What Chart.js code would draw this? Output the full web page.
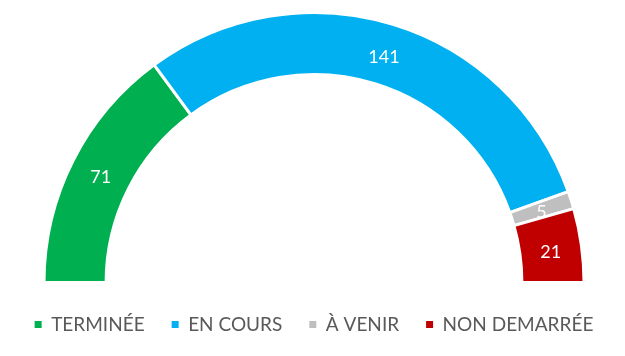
<!DOCTYPE html>
<html>
<head>
<meta charset="utf-8">
<script src="https://cdn.jsdelivr.net/npm/chart.js@4.4.1/dist/chart.umd.min.js"></script>
<style>
  html, body { margin: 0; padding: 0; background: #fff; }
  #wrap { width: 625px; height: 356px; position: relative; }
</style>
</head>
<body>
<div id="wrap"><canvas id="chart01"></canvas></div>
<script>
// données
var categories = ["TERMINÉE", "EN COURS", "À VENIR", "NON DEMARRÉE"];
var values = [71, 141, 5, 21];
var colors = ["#00B050", "#00B0F0", "#BFBFBF", "#C00000"];

// étiquettes blanches au centre de chaque segment
var valueLabels = {
  id: 'valueLabels',
  afterDatasetsDraw: function (chart) {
    var ctx = chart.ctx;
    var meta = chart.getDatasetMeta(0);
    ctx.save();
    ctx.fillStyle = '#ffffff';
    ctx.font = '18px Lato';
    ctx.textAlign = 'center';
    ctx.textBaseline = 'middle';
    meta.data.forEach(function (arc, i) {
      var p = arc.tooltipPosition();
      ctx.fillText(String(chart.data.datasets[0].data[i]), p.x, p.y + 3);
    });
    ctx.restore();
  }
};

var ctx = document.getElementById('chart01').getContext('2d');
var chart = new Chart(ctx, {
  type: 'doughnut',
  data: {
    labels: categories,
    datasets: [{
      data: values,
      backgroundColor: colors,
      borderColor: '#ffffff',
      borderWidth: 3
    }]
  },
  options: {
    responsive: true,
    maintainAspectRatio: false,
    animation: false,
    rotation: -90,
    circumference: 180,
    cutout: '77%',
    layout: {
      padding: { left: 3, right: 0, top: 11, bottom: 12 }
    },
    plugins: {
      tooltip: { enabled: false },
      legend: {
        position: 'bottom',
        // titre vide : juste pour décaler la légende vers le bas
        title: { display: true, text: '', font: { size: 4, lineHeight: 1 }, padding: 0 },
        labels: {
          color: '#595959',
          font: { family: 'Lato', size: 19 },
          boxWidth: 7,
          boxHeight: 7,
          padding: 27,
          generateLabels: function (chart) {
            var items = Chart.overrides.doughnut.plugins.legend.labels.generateLabels(chart);
            items.forEach(function (it) { it.lineWidth = 0; });
            return items;
          }
        }
      }
    }
  },
  plugins: [valueLabels]
});
</script>
</body>
</html>
